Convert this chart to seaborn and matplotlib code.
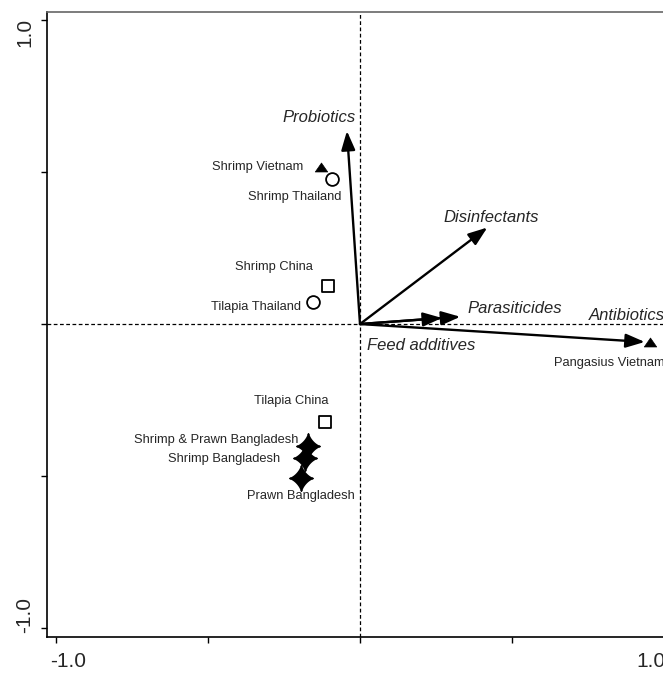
import numpy as np
import pandas as pd
import matplotlib
matplotlib.use("Agg")
import matplotlib.pyplot as plt
from matplotlib.path import Path
import seaborn as sns

# sample scores (axis 1, axis 2)
samples = ["Shrimp Vietnam", "Pangasius Vietnam", "Shrimp Thailand", "Tilapia Thailand",
           "Shrimp China", "Tilapia China", "Shrimp & Prawn Bangladesh",
           "Shrimp Bangladesh", "Prawn Bangladesh"]
country = ["Vietnam", "Vietnam", "Thailand", "Thailand", "China", "China",
           "Bangladesh", "Bangladesh", "Bangladesh"]
sample_x = [-0.127, 0.953, -0.091, -0.156, -0.104, -0.114, -0.170, -0.182, -0.194]
sample_y = [0.516, -0.059, 0.477, 0.072, 0.126, -0.324, -0.403, -0.441, -0.506]

# explanatory variables (arrow tips)
variables = ["Probiotics", "Disinfectants", "Feed additives", "Parasiticides", "Antibiotics"]
var_x = [-0.043, 0.419, 0.270, 0.330, 0.937]
var_y = [0.636, 0.318, 0.020, 0.024, -0.059]

# text placement (layout only)
sample_label_pos = {
    "Shrimp Vietnam": (-0.188, 0.519, "right"),
    "Pangasius Vietnam": (0.638, -0.127, "left"),
    "Shrimp Thailand": (-0.214, 0.420, "center"),
    "Tilapia Thailand": (-0.193, 0.055, "right"),
    "Shrimp China": (-0.284, 0.187, "center"),
    "Tilapia China": (-0.227, -0.255, "center"),
    "Shrimp & Prawn Bangladesh": (-0.203, -0.383, "right"),
    "Shrimp Bangladesh": (-0.263, -0.443, "right"),
    "Prawn Bangladesh": (-0.193, -0.566, "center"),
}
var_label_pos = {
    "Probiotics": (-0.015, 0.679, "right"),
    "Disinfectants": (0.431, 0.351, "center"),
    "Feed additives": (0.024, -0.071, "left"),
    "Parasiticides": (0.510, 0.052, "center"),
    "Antibiotics": (0.752, 0.028, "left"),
}

sns.set_style("ticks")
plt.rcParams["font.family"] = ["Liberation Sans", "DejaVu Sans"]

df = pd.DataFrame({"x": sample_x, "y": sample_y, "sample": samples, "country": country})

# custom marker shapes
tri = Path([(-1, -0.72), (1, -0.72), (0, 0.72), (-1, -0.72)],
           [Path.MOVETO, Path.LINETO, Path.LINETO, Path.CLOSEPOLY])
t = np.linspace(0, 2 * np.pi, 241)
c, s = np.cos(t), np.sin(t)
p = 2.8
star_v = np.column_stack([0.92 * np.sign(c) * np.abs(c) ** p, np.sign(s) * np.abs(s) ** p])
star = Path(star_v, closed=True)

fig = plt.figure(figsize=(6.63, 6.73), dpi=100)
ax = fig.add_axes([47 / 663, 36 / 673, 626 / 663, 625 / 673])

ax.axhline(0, color="black", lw=0.9, ls=(0, (3, 2)), zorder=1)
ax.axvline(0, color="black", lw=0.9, ls=(0, (3, 2)), zorder=1)

styles = {
    "Vietnam": dict(marker=tri, s=80, color="black", edgecolor="black", linewidth=0.5),
    "Thailand": dict(marker="o", s=85, facecolor="white", edgecolor="black", linewidth=1.3),
    "China": dict(marker="s", s=72, facecolor="white", edgecolor="black", linewidth=1.3),
    "Bangladesh": dict(marker=star, s=330, color="black", edgecolor="black", linewidth=1.2),
}
for k, kw in styles.items():
    sub = df[df["country"] == k]
    sns.scatterplot(data=sub, x="x", y="y", ax=ax, legend=False, zorder=3, **kw)

for name, vx, vy in zip(variables, var_x, var_y):
    ax.annotate("", xy=(vx, vy), xytext=(0, 0),
                arrowprops=dict(arrowstyle="-|>,head_length=1.15,head_width=0.42",
                                mutation_scale=10, color="black", lw=1.7,
                                shrinkA=0, shrinkB=0), zorder=2)
    lx, ly, ha = var_label_pos[name]
    ax.text(lx, ly, name, fontsize=12, style="italic", ha=ha, va="center", zorder=4)

for name in samples:
    lx, ly, ha = sample_label_pos[name]
    ax.text(lx, ly, name, fontsize=9.3, ha=ha, va="center", zorder=4)

ax.set_xlim(-1.03, 1.03)
ax.set_ylim(-1.031, 1.028)
ax.set_xlabel("")
ax.set_ylabel("")

# tick marks at every 0.5, labels only near the ends
ax.set_xticks([-1, -0.5, 0, 0.5, 1], minor=True)
ax.set_yticks([-1, -0.5, 0, 0.5, 1], minor=True)
ax.set_xticks([-0.962, 0.957])
ax.set_xticklabels(["-1.0", "1.0"], fontsize=15)
ax.set_yticks([-0.959, 0.962])
ax.set_yticklabels(["-1.0", "1.0"], fontsize=15, rotation=90, va="center")
ax.tick_params(axis="x", which="major", length=0, pad=11)
ax.tick_params(axis="y", which="major", length=0, pad=9)
ax.tick_params(which="minor", length=4, width=1, color="black", direction="out")

for sp in ax.spines.values():
    sp.set_color("black")
    sp.set_linewidth(1.2)
ax.spines["top"].set_color("#666666")

fig.savefig("out.png", dpi=100)
